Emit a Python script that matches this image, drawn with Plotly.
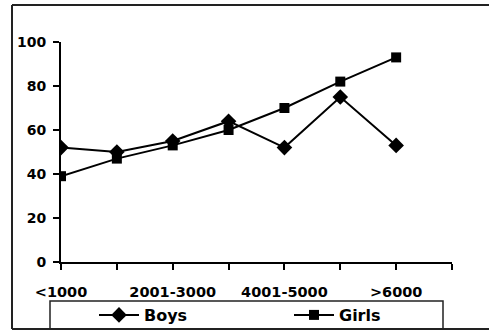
import plotly.graph_objects as go

categories = ["<1000", "1001-2000", "2001-3000", "3001-4000", "4001-5000", "5001-6000", ">6000"]
boys = [52, 50, 55, 64, 52, 75, 53]
girls = [39, 47, 53, 60, 70, 82, 93]
y_ticks = [0, 20, 40, 60, 80, 100]

W, H = 489, 331
L, R, T, B = 61, 37, 42, 69
pw, ph = W - L - R, H - T - B

def px(x):
    return (x - L) / pw

def py(y):
    return (H - B - y) / ph

xi = list(range(len(categories)))
tickvals = list(range(len(categories) + 1))
ticktext = [c if i % 2 == 0 else "" for i, c in enumerate(categories)] + [""]

FONT = "DejaVu Sans"

fig = go.Figure()
fig.add_trace(go.Scatter(x=xi, y=boys, name="<b>Boys</b>", mode="lines+markers",
                         line=dict(color="black", width=2),
                         marker=dict(symbol="diamond", size=12, color="black")))
fig.add_trace(go.Scatter(x=xi, y=girls, name="<b>Girls</b>", mode="lines+markers",
                         line=dict(color="black", width=2),
                         marker=dict(symbol="square", size=10, color="black")))

fig.update_layout(
    width=W, height=H,
    margin=dict(l=L, r=R, t=T, b=B, autoexpand=False),
    paper_bgcolor="white", plot_bgcolor="white",
    font=dict(family=FONT, color="black", size=14),
    showlegend=True,
    legend=dict(orientation="h", xref="container", yref="container",
                x=94 / W, y=1 - 298 / H, xanchor="left", yanchor="top",
                bgcolor="rgba(0,0,0,0)", borderwidth=0,
                font=dict(family=FONT, size=16, color="black"),
                entrywidth=140, itemwidth=40),
    xaxis=dict(range=[0, 7], tickmode="array", tickvals=tickvals, ticktext=ticktext,
               automargin=False,
               showgrid=False, zeroline=False, showline=True, linecolor="black", linewidth=2,
               ticks="outside", ticklen=6, tickwidth=2, tickcolor="black",
               tickfont=dict(family=FONT, size=14.5, color="black", weight="bold"),
               ticklabelstandoff=10),
    yaxis=dict(range=[0, 100], tickmode="array", tickvals=y_ticks,
               automargin=False,
               showgrid=False, zeroline=False, showline=True, linecolor="black", linewidth=2,
               ticks="outside", ticklen=6, tickwidth=2, tickcolor="black",
               tickfont=dict(family=FONT, size=14, color="black", weight="bold"),
               ticklabelstandoff=4),
    shapes=[
        dict(type="line", xref="paper", yref="paper", x0=px(12), x1=px(12), y0=py(5), y1=py(329),
             line=dict(color="#222", width=2)),
        dict(type="line", xref="paper", yref="paper", x0=px(12), x1=px(495), y0=py(5), y1=py(5),
             line=dict(color="#222", width=2)),
        dict(type="line", xref="paper", yref="paper", x0=px(12), x1=px(495), y0=py(329), y1=py(329),
             line=dict(color="#222", width=2)),
        dict(type="rect", xref="paper", yref="paper", x0=px(50), x1=px(443), y0=py(301), y1=py(329),
             line=dict(color="#222", width=1.5)),
    ],
)

fig.write_html("out.html")
